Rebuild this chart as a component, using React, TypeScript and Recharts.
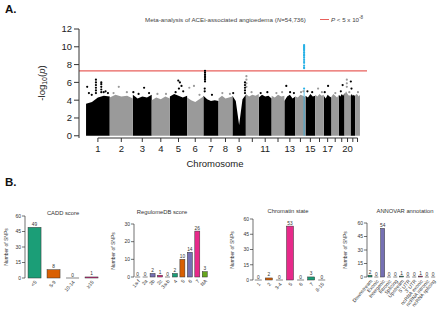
import React from 'react';
import {
  ComposedChart,
  Area,
  Scatter,
  XAxis,
  YAxis,
  ReferenceLine,
  BarChart,
  Bar,
  Cell,
  LabelList,
} from 'recharts';

const FONT = '"Liberation Sans", Arial, sans-serif';

// ---- panel A: Manhattan plot ----
// chromosome sizes in Mb (hg19)
const CHR_LENGTHS = [249, 243, 198, 191, 181, 171, 159, 146, 141, 136, 135, 134, 115, 107, 102, 90, 81, 78, 59, 63, 48, 51];
const CHR_LABELS = ['1', '2', '3', '4', '5', '6', '7', '8', '9', '', '11', '', '13', '', '15', '', '17', '', '', '20', '', ''];

// top of the dense band of SNPs along each chromosome (-log10 p)
const DENSE_TOPS = [
  [3.6, 3.8, 4.3, 4.5, 4.4],
  [4.3, 4.6, 4.4, 4.5, 4.2],
  [4.6, 4.2, 4.4, 4.3, 4.6],
  [4.0, 4.3, 4.1, 4.4, 4.2],
  [4.4, 4.7, 4.5, 4.3, 4.5],
  [4.3, 4.0, 3.8, 4.1, 4.4],
  [4.5, 4.1, 3.9, 4.0, 3.9],
  [4.2, 4.5, 4.2, 4.3, 4.4],
  [4.5, 3.9, 1.2, 4.1, 4.6],
  [4.7, 4.4, 4.6, 4.5, 4.7],
  [4.3, 4.6, 4.4, 4.5, 4.2],
  [4.5, 4.3, 4.6, 4.4, 4.5],
  [3.9, 4.4, 4.6, 4.2, 4.4],
  [4.4, 4.3, 4.6, 4.5, 4.3],
  [4.5, 4.3, 4.7, 4.4, 4.5],
  [4.6, 4.4, 4.7, 4.5, 4.6],
  [4.5, 4.2, 4.6, 4.4, 4.3],
  [4.4, 4.7, 4.5, 4.3, 4.6],
  [4.6, 4.4, 4.7, 4.5, 4.8],
  [4.6, 5.0, 4.7, 4.5, 4.6],
  [4.4, 4.7, 4.5, 4.6, 4.4],
  [4.5, 4.7, 4.6, 4.4, 4.6],
];

// [chromosome, Mb, -log10 p] of the points standing above the band
const HITS: [number, number, number][] = [
  [1, 12, 5.5], [1, 30, 4.8], [1, 60, 4.6],
  [1, 104, 6.3], [1, 104, 6.0], [1, 104, 5.7], [1, 104, 5.4], [1, 104, 5.1], [1, 104, 4.8],
  [1, 160, 6.0], [1, 160, 5.8], [1, 160, 5.5], [1, 160, 5.2], [1, 160, 4.9],
  [1, 185, 4.9], [1, 205, 5.0], [1, 230, 4.8],
  [2, 40, 4.8], [2, 95, 5.5], [2, 180, 4.9],
  [3, 5, 4.9], [3, 60, 4.7], [3, 118, 5.4], [3, 170, 4.8],
  [4, 60, 4.7], [4, 150, 4.7],
  [5, 60, 4.9], [5, 88, 6.2], [5, 95, 5.3], [5, 105, 6.0], [5, 122, 5.6], [5, 140, 5.0],
  [6, 23, 5.4], [6, 72, 5.6], [6, 130, 4.6],
  [7, 17, 7.3], [7, 17, 7.1], [7, 17, 6.9], [7, 17, 6.7], [7, 17, 6.5], [7, 17, 6.3], [7, 17, 6.1],
  [7, 14, 5.3], [7, 14, 5.0], [7, 90, 4.6],
  [8, 40, 4.8], [8, 120, 4.7],
  [9, 8, 4.8], [9, 132, 6.0], [9, 132, 5.7], [9, 132, 5.4], [9, 132, 5.1], [9, 132, 4.8],
  [10, 6, 6.7], [10, 6, 6.3], [10, 6, 5.9], [10, 6, 5.5], [10, 60, 4.9],
  [11, 20, 4.8], [11, 90, 4.9],
  [12, 50, 4.8], [12, 110, 4.9],
  [13, 20, 5.6], [13, 60, 4.9], [13, 100, 4.8],
  [14, 60, 4.9], [14, 85, 5.0],
  [15, 20, 5.0], [15, 70, 4.9],
  [16, 30, 5.3], [16, 70, 4.9],
  [17, 10, 4.9], [17, 45, 5.6],
  [18, 40, 4.8],
  [19, 20, 5.0], [19, 39, 5.7],
  [20, 24, 6.3], [20, 24, 5.9], [20, 24, 5.5], [20, 50, 4.9],
  [21, 3, 6.1], [21, 10, 5.3],
  [22, 30, 4.9],
];

// highlighted locus on chromosome 14
const LEAD_CHR = 14;
const LEAD_MB = 92;
const LEAD_SPAN = [88, 96];
const LEAD_BAND = 5.1;
const LEAD_HITS = [10.2, 10.1, 10.0, 9.9, 9.8, 9.7, 9.6, 9.4, 9.3, 9.1, 9.0, 8.8, 8.6, 8.4, 8.2, 7.9, 7.7, 7.6, 5.3];

const THRESHOLD = 7.3;
const Y_TICKS = [0, 2, 4, 6, 8, 10, 12];

// ---- panel B: annotation bar charts ----
const DARK2 = ['#1b9e77', '#d95f02', '#7570b3', '#e7298a', '#66a61e'];

const CADD_CATS = ['<5', '5-9', '10-14', '≥15'];
const CADD_COUNTS = [49, 8, 0, 1];
const REG_CATS = ['1a-f', '2a', '2b', '2c', '3a-b', '4', '5', '6', '7', 'NA'];
const REG_COUNTS = [0, 0, 2, 1, 0, 2, 10, 14, 26, 3];
const CHROM_CATS = ['1', '2', '3-4', '5', '6', '7', '8-15'];
const CHROM_COUNTS = [0, 2, 0, 53, 0, 3, 0];
const ANNO_CATS = ['Downstream', 'Exonic', 'Intergenic', 'Intronic', 'Splicing', 'Upstream', "5' UTR", "3' UTR", 'ncRNA exonic', 'ncRNA intronic', 'ncRNA splicing'];
const ANNO_COUNTS = [2, 0, 54, 0, 0, 1, 0, 0, 1, 0, 0];

// cumulative chromosome starts
const starts: number[] = [];
CHR_LENGTHS.forEach((len, i) => starts.push(i === 0 ? 0 : starts[i - 1] + CHR_LENGTHS[i - 1]));
const chrCenters = CHR_LENGTHS.map((len, i) => starts[i] + len / 2);
const genomeEnd = starts[21] + CHR_LENGTHS[21];

const denseRows: any[] = [];
DENSE_TOPS.forEach((tops, i) => {
  tops.forEach((v, j) => {
    denseRows.push({
      pos: starts[i] + (CHR_LENGTHS[i] * j) / (tops.length - 1),
      dark: i % 2 === 0 ? v : null,
      light: i % 2 === 1 ? v : null,
      lead: null,
    });
  });
});
LEAD_SPAN.forEach((mb) => {
  denseRows.push({ pos: starts[LEAD_CHR - 1] + mb, dark: null, light: null, lead: LEAD_BAND });
});

const hitPoint = (h: [number, number, number]) => ({ pos: starts[h[0] - 1] + h[1], val: h[2] });
const darkHits = HITS.filter((h) => h[0] % 2 === 1).map(hitPoint);
const lightHits = HITS.filter((h) => h[0] % 2 === 0).map(hitPoint);
const leadHits = LEAD_HITS.map((v) => ({ pos: starts[LEAD_CHR - 1] + LEAD_MB, val: v }));

const dot = (color: string) => (p: any) => <circle cx={p.cx} cy={p.cy} r={1.1} fill={color} />;

const axisTick = { fontSize: 9.5, fill: '#222', fontFamily: FONT };

function Manhattan() {
  return (
    <div style={{ position: 'absolute', left: 0, top: 0 }}>
      <ComposedChart width={440} height={158} data={denseRows} margin={{ top: 29, right: 73, left: 49, bottom: 0 }}>
        <XAxis
          type="number"
          dataKey="pos"
          domain={[-74, genomeEnd + 74]}
          ticks={chrCenters}
          interval={0}
          tickFormatter={(v: number) => CHR_LABELS[chrCenters.indexOf(v)]}
          axisLine={false}
          tickLine={{ stroke: '#333' }}
          tickSize={4}
          tickMargin={3}
          height={20}
          tick={axisTick}
          allowDataOverflow
        />
        <YAxis
          type="number"
          dataKey="val"
          domain={[-0.25, 12]}
          ticks={Y_TICKS}
          width={30}
          tickSize={5}
          tickMargin={2}
          axisLine={{ stroke: '#333' }}
          tickLine={{ stroke: '#333' }}
          tick={axisTick}
          allowDataOverflow
        />
        <Area dataKey="dark" type="linear" stroke="none" fill="#000" fillOpacity={1} connectNulls={false} dot={false} activeDot={false} isAnimationActive={false} />
        <Area dataKey="light" type="linear" stroke="none" fill="#9a9a9a" fillOpacity={1} connectNulls={false} dot={false} activeDot={false} isAnimationActive={false} />
        <Area dataKey="lead" type="linear" stroke="#29b1e6" strokeWidth={0.8} fill="#29b1e6" fillOpacity={1} connectNulls={false} dot={false} activeDot={false} isAnimationActive={false} />
        <Scatter data={lightHits} dataKey="val" shape={dot('#9a9a9a')} isAnimationActive={false} />
        <Scatter data={darkHits} dataKey="val" shape={dot('#000')} isAnimationActive={false} />
        <Scatter data={leadHits} dataKey="val" shape={dot('#29b1e6')} isAnimationActive={false} />
        <ReferenceLine y={THRESHOLD} stroke="#e8605c" strokeWidth={1.2} />
        <ReferenceLine
          segment={[{ x: chrCenters[0], y: -0.25 }, { x: chrCenters[21], y: -0.25 }]}
          stroke="#333"
          ifOverflow="visible"
        />
      </ComposedChart>
    </div>
  );
}

const SlantTick = (props: any) => {
  const { x, y, payload } = props;
  return (
    <text
      x={x + 1}
      y={y}
      textAnchor="end"
      dominantBaseline="central"
      transform={`rotate(-50 ${x + 1} ${y})`}
      fontSize={5}
      fill="#333"
      fontFamily={FONT}
    >
      {payload.value}
    </text>
  );
};

const BarShape = (props: any) => {
  const { x, y, width, height, fill } = props;
  if (!height) {
    return <line x1={x} x2={x + width} y1={y} y2={y} stroke="#555" strokeWidth={0.7} />;
  }
  return <rect x={x} y={y} width={width} height={height} fill={fill} stroke="#333" strokeWidth={0.5} />;
};

type PanelProps = {
  cats: string[];
  counts: number[];
  ymax: number;
  ticks: number[];
  title: string;
  box: { l: number; r: number; t: number; b: number };
  titleX: number;
  titleY: number;
  ylabX: number;
  gap: string;
};

function SnpPanel({ cats, counts, ymax, ticks, title, box, titleX, titleY, ylabX, gap }: PanelProps) {
  const data = cats.map((c, i) => ({ cat: c, n: counts[i] }));
  const YW = 20;
  const MT = 14;
  const XH = 40;
  const w = box.r - box.l + YW + 2;
  const h = box.b - box.t + MT + XH;
  const small = { fontSize: 5, fill: '#333', fontFamily: FONT };
  return (
    <>
      <div style={{ position: 'absolute', left: box.l - YW, top: box.t - MT }}>
        <BarChart width={w} height={h} data={data} margin={{ top: MT, right: 2, left: 0, bottom: 0 }} barCategoryGap={gap}>
          <XAxis dataKey="cat" axisLine={false} tickLine={false} interval={0} height={XH} tickSize={2} tickMargin={1} tick={SlantTick} />
          <YAxis
            type="number"
            domain={[0, ymax]}
            ticks={ticks}
            width={YW}
            tickSize={3}
            tickMargin={1}
            axisLine={{ stroke: '#333', strokeWidth: 0.7 }}
            tickLine={{ stroke: '#333', strokeWidth: 0.7 }}
            tick={small}
          />
          <Bar dataKey="n" isAnimationActive={false} shape={BarShape}>
            {data.map((d, i) => (
              <Cell key={d.cat} fill={DARK2[i % DARK2.length]} />
            ))}
            <LabelList dataKey="n" position="top" offset={1.5} fontSize={4.8} fill="#333" fontFamily={FONT} />
          </Bar>
        </BarChart>
      </div>
      <div style={{ position: 'absolute', left: titleX, top: titleY, transform: 'translate(-50%, -50%)', fontSize: 5.8, color: '#333', whiteSpace: 'nowrap', fontFamily: FONT }}>
        {title}
      </div>
      <div
        style={{
          position: 'absolute',
          left: ylabX,
          top: (box.t + box.b) / 2,
          transform: 'translate(-50%, -50%) rotate(-90deg)',
          fontSize: 5,
          color: '#333',
          whiteSpace: 'nowrap',
          fontFamily: FONT,
        }}
      >
        Number of SNPs
      </div>
    </>
  );
}

export default function App() {
  return (
    <div style={{ position: 'absolute', left: 0, top: 0, width: 440, height: 312, background: '#fff', fontFamily: FONT, overflow: 'hidden' }}>
      <div style={{ position: 'absolute', left: 5, top: 3, fontSize: 11.5, fontWeight: 'bold', color: '#111' }}>A.</div>
      <div style={{ position: 'absolute', left: 5, top: 176, fontSize: 11.5, fontWeight: 'bold', color: '#111' }}>B.</div>

      <div style={{ position: 'absolute', left: 145, top: 19, transform: 'translateY(-50%)', fontSize: 6.2, color: '#444', whiteSpace: 'nowrap' }}>
        Meta-analysis of ACEi-associated angioedema (<i>N</i>=54,736)
      </div>
      <div style={{ position: 'absolute', left: 320, top: 18.5, width: 9, height: 1.4, background: '#e8605c' }} />
      <div style={{ position: 'absolute', left: 331, top: 19, transform: 'translateY(-50%)', fontSize: 6.2, color: '#444', whiteSpace: 'nowrap' }}>
        <i>P</i> &lt; 5 x 10<sup style={{ fontSize: 4.5 }}>-8</sup>
      </div>

      <Manhattan />

      <div style={{ position: 'absolute', left: 42, top: 83, transform: 'translate(-50%, -50%) rotate(-90deg)', fontSize: 9.5, color: '#222', whiteSpace: 'nowrap' }}>
        -log<sub style={{ fontSize: 7 }}>10</sub>(<i>p</i>)
      </div>
      <div style={{ position: 'absolute', left: 215, top: 163, transform: 'translate(-50%, -50%)', fontSize: 9.5, color: '#222', whiteSpace: 'nowrap' }}>
        Chromosome
      </div>

      <SnpPanel cats={CADD_CATS} counts={CADD_COUNTS} ymax={60} ticks={[0, 15, 30, 45, 60]} title="CADD score"
        box={{ l: 25, r: 101, t: 216, b: 278 }} titleX={63} titleY={213} ylabX={6} gap="16%" />
      <SnpPanel cats={REG_CATS} counts={REG_COUNTS} ymax={30} ticks={[0, 10, 20, 30]} title="RegulomeDB score"
        box={{ l: 134, r: 208.5, t: 224, b: 277 }} titleX={162} titleY={212} ylabX={113} gap="16%" />
      <SnpPanel cats={CHROM_CATS} counts={CHROM_COUNTS} ymax={60} ticks={[0, 15, 30, 45, 60]} title="Chromatin state"
        box={{ l: 253, r: 327, t: 219, b: 280 }} titleX={288} titleY={211} ylabX={232} gap="17%" />
      <SnpPanel cats={ANNO_CATS} counts={ANNO_COUNTS} ymax={60} ticks={[0, 15, 30, 45, 60]} title="ANNOVAR annotation"
        box={{ l: 366.5, r: 436, t: 223, b: 277 }} titleX={405} titleY={211} ylabX={345} gap="16%" />
    </div>
  );
}
